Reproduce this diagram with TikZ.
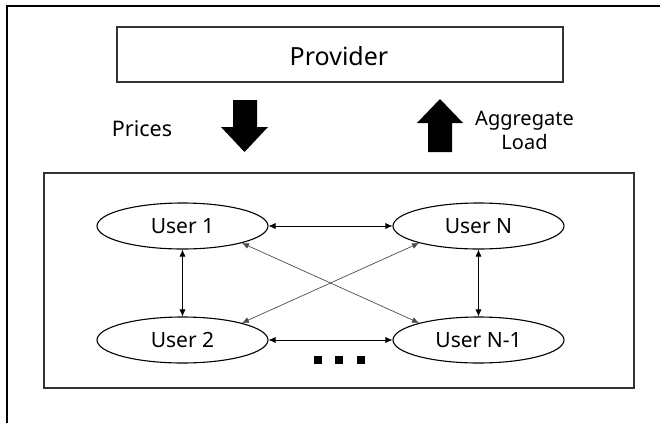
\documentclass[tikz,border=0pt]{standalone}
\usepackage{fontspec}
\setmainfont{Noto Sans}
\usetikzlibrary{arrows.meta,shapes.geometric}

\tikzset{
  frameline/.style={line width=1.3pt, black},
  boxline/.style={draw=black!80, line width=1.1pt},
  user/.style={ellipse, draw=black, line width=1.1pt, minimum width=171pt,
               minimum height=46pt, inner sep=0pt, font=\fontsize{21}{25}\selectfont},
  link/.style={line width=0.7pt, black, {Latex[length=7pt,width=6pt]}-{Latex[length=7pt,width=6pt]}},
  crosslink/.style={link, draw=black!70},
  label/.style={font=\fontsize{20}{24}\selectfont, inner sep=0pt},
  blockarrow/.style={fill=black, draw=none},
  dot/.style={fill=black, minimum size=8pt, inner sep=0pt, draw=none}
}

\begin{document}
\begin{tikzpicture}[x=1pt, y=-1pt]
  \useasboundingbox (0,0) rectangle (660,423);

  % open outer frame: top and left edges only
  \coordinate (fl) at (7,423);
  \coordinate (fc) at (7,6);
  \coordinate (fr) at (660,6);
  \draw[frameline] (fl) -- (fc) -- (fr);

  % provider
  \node[boxline, rectangle, minimum width=446pt, minimum height=55pt, inner sep=0pt]
    (prov) at (340,54.5) {};
  \node[label, font=\fontsize{25}{29}\selectfont, anchor=base] (provtxt) at (339,65) {Provider};

  % price signal going down, load going up
  \fill[blockarrow] (233,100) -- (257,100) -- (257,127) -- (268,127)
                    -- (244.5,152) -- (221,127) -- (233,127) -- cycle;
  \node[label, font=\fontsize{21.5}{25}\selectfont, anchor=base] (prices) at (142,136) {Prices};

  \fill[blockarrow] (428,152) -- (452,152) -- (452,123) -- (463,123)
                    -- (440,99) -- (417,123) -- (428,123) -- cycle;
  \node[label, anchor=base] (agg) at (524.5,125) {Aggregate};
  \node[label, anchor=base] (load) at (524.5,149) {Load};

  % users
  \node[boxline, rectangle, minimum width=590pt, minimum height=215pt, inner sep=0pt]
    (group) at (339,280.5) {};

  \node[user] (u1)  at (182.5,226) {User 1};
  \node[user] (uN)  at (478.5,226) {User N};
  \node[user] (u2)  at (182.5,340) {User 2};
  \node[user] (uN1) at (478.5,340) {User N-1};

  \draw[link] (u1) -- (uN);
  \draw[link] (u2) -- (uN1);
  \draw[link] (u1) -- (u2);
  \draw[link] (uN) -- (uN1);
  \draw[crosslink] (u1.-16) -- (uN1.164);
  \draw[crosslink] (uN.196) -- (u2.16);

  \node[dot] (d1) at (317.5,359.5) {};
  \node[dot] (d2) at (339,359.5) {};
  \node[dot] (d3) at (360.5,359.5) {};
\end{tikzpicture}
\end{document}
